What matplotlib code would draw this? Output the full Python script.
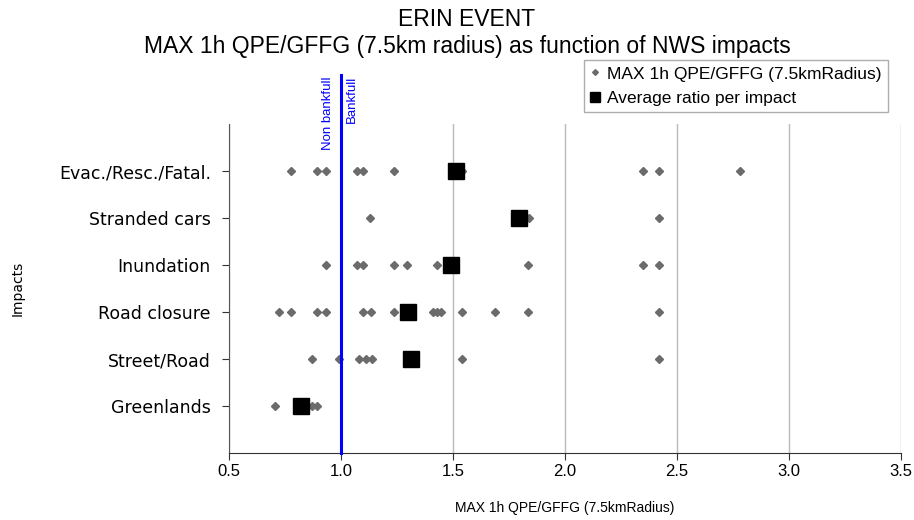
import matplotlib
matplotlib.use('Agg')
import matplotlib.pyplot as plt
import numpy as np

# categories bottom -> top
impacts = ['Greenlands', 'Street/Road', 'Road closure', 'Inundation', 'Stranded cars', 'Evac./Resc./Fatal.']

# MAX 1h QPE/GFFG per report, per impact
greenlands = [0.705, 0.869, 0.891]
street_road = [0.869, 0.992, 1.082, 1.111, 1.137, 1.539, 2.42]
road_closure = [0.725, 0.775, 0.891, 0.933, 1.097, 1.133, 1.237, 1.30, 1.409, 1.427, 1.445,
                1.539, 1.689, 1.836, 2.42]
inundation = [0.933, 1.07, 1.10, 1.237, 1.296, 1.427, 1.836, 2.35, 2.42]
stranded = [1.13, 1.84, 2.42]
evac = [0.777, 0.891, 0.933, 1.07, 1.10, 1.237, 1.539, 2.35, 2.42, 2.78]

averages = [0.821, 1.3125, 1.30, 1.49, 1.796, 1.513]

series = [greenlands, street_road, road_closure, inundation, stranded, evac]

fig = plt.figure(figsize=(9.14, 5.2), dpi=100)
ax = fig.add_axes([229/914, 1-453/520, 672/914, 329/520])

for i, vals in enumerate(series):
    ax.plot(vals, [i+1]*len(vals), linestyle='none', marker='D', markersize=4.5,
            color='#6b6b6b', label='MAX 1h QPE/GFFG (7.5kmRadius)' if i == 0 else None, zorder=3)
ax.plot(averages, np.arange(1, 7), linestyle='none', marker='s', markersize=11,
        color='black', label='Average ratio per impact', zorder=4)

# bankfull line
ax.plot([1.0, 1.0], [0, 8.05], color='blue', lw=2.2, clip_on=False, zorder=5)
ax.text(0.94, 8.02, 'Non bankfull', rotation=90, color='blue', ha='center', va='top',
        fontsize=9.5, family='Liberation Sans')
ax.text(1.05, 8.02, 'Bankfull', rotation=90, color='blue', ha='center', va='top',
        fontsize=9.5, family='Liberation Sans')

ax.set_xlim(0.5, 3.5)
ax.set_ylim(0, 7)
ax.set_xticks([0.5, 1.0, 1.5, 2.0, 2.5, 3.0, 3.5])
ax.set_xticklabels(['0.5', '1.0', '1.5', '2.0', '2.5', '3.0', '3.5'], family='Liberation Sans', fontsize=12)
ax.set_yticks(np.arange(1, 7))
ax.set_yticklabels(impacts, fontsize=12.5)
ax.grid(axis='x', color='#bbbbbb', lw=1)
ax.set_axisbelow(True)
for s in ['top', 'right']:
    ax.spines[s].set_visible(False)
ax.spines['left'].set_color('#555555')
ax.spines['bottom'].set_color('#333333')
ax.tick_params(axis='y', length=5, color='#333333', pad=8)
ax.tick_params(axis='x', length=5, color='#333333', pad=3)

ax.set_xlabel('MAX 1h QPE/GFFG (7.5kmRadius)', family='Liberation Sans', fontsize=10, labelpad=16)
ax.set_ylabel('Impacts', fontsize=10, labelpad=25)

fig.suptitle('ERIN EVENT\nMAX 1h QPE/GFFG (7.5km radius) as function of NWS impacts',
             family='Liberation Sans', fontsize=16.5, y=0.985, x=0.511, linespacing=1.25)

leg = ax.legend(loc='upper right', bbox_to_anchor=(0.993, 1.22), prop={'family': 'Liberation Sans', 'size': 12.5},
                fancybox=False, edgecolor='#999999', handlelength=0.6, handletextpad=0.4,
                borderpad=0.35, labelspacing=0.55, markerscale=0.65)

fig.savefig('out.png', dpi=100)
